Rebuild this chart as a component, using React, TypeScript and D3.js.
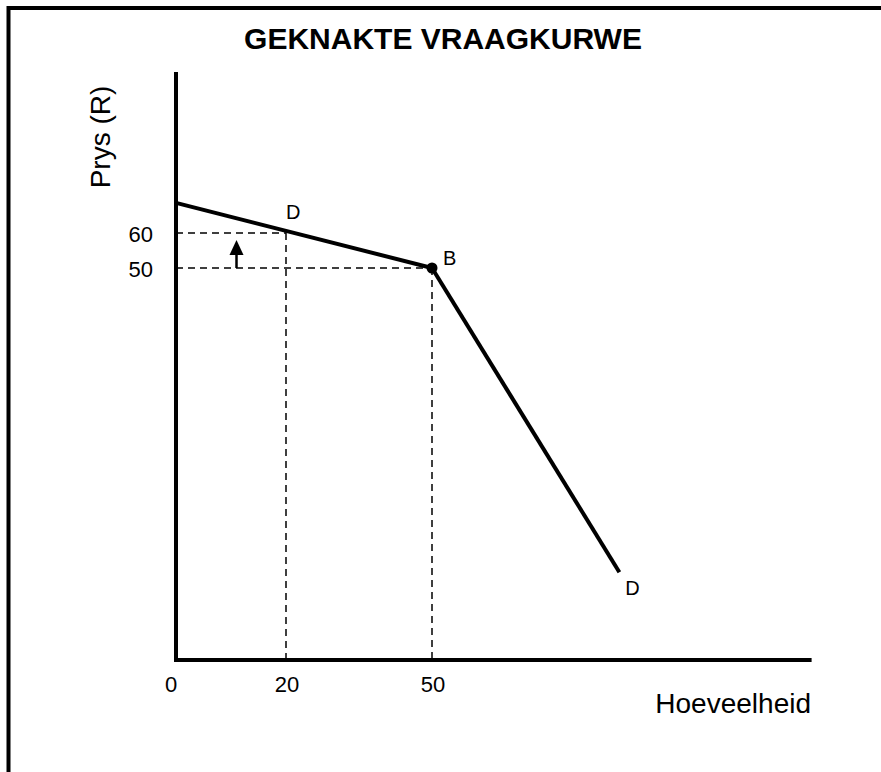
import React from 'react';
import * as d3 from 'd3';

// kinked demand curve values (quantity, price)
const upperQ = [0, 50];
const upperP = [68.6, 50];
const lowerQ = [50, 88.5];
const lowerP = [50, 11.2];

const xTicks = [0, 20, 50];
const yTicks = [60, 50];

const kinkQ = 50;
const kinkP = 50;
const raisedQ = 20;
const raisedP = 60;

const arrowQ = 11;
const arrowFrom = 50;
const arrowTo = 58;

const qMax = 128;
const pMax = 106;

const W = 881;
const H = 772;
const FONT = '"Liberation Sans", Arial, Helvetica, sans-serif';

const App: React.FC = () => {
  // sketch axes: hand drawn, so the scales are piecewise
  const x = d3.scaleLinear().domain([0, 20, 50]).range([176, 286, 432]);
  const y = d3.scaleLinear().domain([0, 50, 60]).range([660, 268, 233]);

  const line = d3.line<[number, number]>()
    .x(d => x(d[0]))
    .y(d => y(d[1]));

  const upper = upperQ.map((q, i) => [q, upperP[i]] as [number, number]);
  const lower = lowerQ.map((q, i) => [q, lowerP[i]] as [number, number]);

  const x0 = x(0);
  const y0 = y(0);
  const dash = '7,5';

  return (
    <div style={{ position: 'fixed', left: 0, top: 0 }}>
      <svg width={W} height={H} style={{ display: 'block', background: '#fff', fontFamily: FONT }}>
        <rect x={8.5} y={8} width={1200} height={1200} fill="none" stroke="#000" strokeWidth={4} />

        <text x={443} y={49} textAnchor="middle" fontSize={30} fontWeight="bold">GEKNAKTE VRAAGKURWE</text>

        {/* dashed guide lines */}
        <line x1={x0} x2={x(raisedQ)} y1={y(raisedP)} y2={y(raisedP)} stroke="#000" strokeWidth={1.5} strokeDasharray={dash} />
        <line x1={x0} x2={x(kinkQ)} y1={y(kinkP)} y2={y(kinkP)} stroke="#000" strokeWidth={1.5} strokeDasharray={dash} />
        <line x1={x(raisedQ)} x2={x(raisedQ)} y1={y(raisedP)} y2={y0} stroke="#000" strokeWidth={1.5} strokeDasharray={dash} />
        <line x1={x(kinkQ)} x2={x(kinkQ)} y1={y(kinkP)} y2={y0} stroke="#000" strokeWidth={1.5} strokeDasharray={dash} />

        {/* arrow */}
        <line x1={x(arrowQ)} x2={x(arrowQ)} y1={y(arrowFrom)} y2={y(arrowTo) + 12} stroke="#000" strokeWidth={2.5} />
        <path
          d={`M${x(arrowQ)},${y(arrowTo)} L${x(arrowQ) - 7},${y(arrowTo) + 15} L${x(arrowQ) + 7},${y(arrowTo) + 15} Z`}
          fill="#000"
        />

        {/* axes */}
        <line x1={x0} x2={x0} y1={y(pMax)} y2={y0 + 2} stroke="#000" strokeWidth={4} />
        <line x1={x0 - 2} x2={x(qMax)} y1={y0} y2={y0} stroke="#000" strokeWidth={4} />

        {/* demand curve */}
        <path d={line(upper) || ''} fill="none" stroke="#000" strokeWidth={4} strokeLinejoin="round" />
        <path d={line(lower) || ''} fill="none" stroke="#000" strokeWidth={4} strokeLinejoin="round" />
        <circle cx={x(kinkQ)} cy={y(kinkP)} r={5.5} fill="#000" />

        {/* curve labels */}
        <text x={x(raisedQ)} y={y(raisedP) - 14} fontSize={20}>D</text>
        <text x={x(kinkQ) + 11} y={y(kinkP) - 3} fontSize={20}>B</text>
        <text x={x(lowerQ[1]) + 6} y={y(lowerP[1]) + 23} fontSize={20}>D</text>

        {/* tick labels */}
        {xTicks.map(t => (
          <text key={'x' + t} x={x(t) + (t === 0 ? -5 : 1)} y={692} textAnchor="middle" fontSize={22}>{t}</text>
        ))}
        {yTicks.map(t => (
          <text key={'y' + t} x={x0 - 23} y={y(t) + 9} textAnchor="end" fontSize={22}>{t}</text>
        ))}

        {/* axis titles */}
        <text x={811} y={713} textAnchor="end" fontSize={28}>Hoeveelheid</text>
        <text transform={`translate(110,137) rotate(-90)`} textAnchor="middle" fontSize={28}>Prys (R)</text>
      </svg>
    </div>
  );
};

export default App;
